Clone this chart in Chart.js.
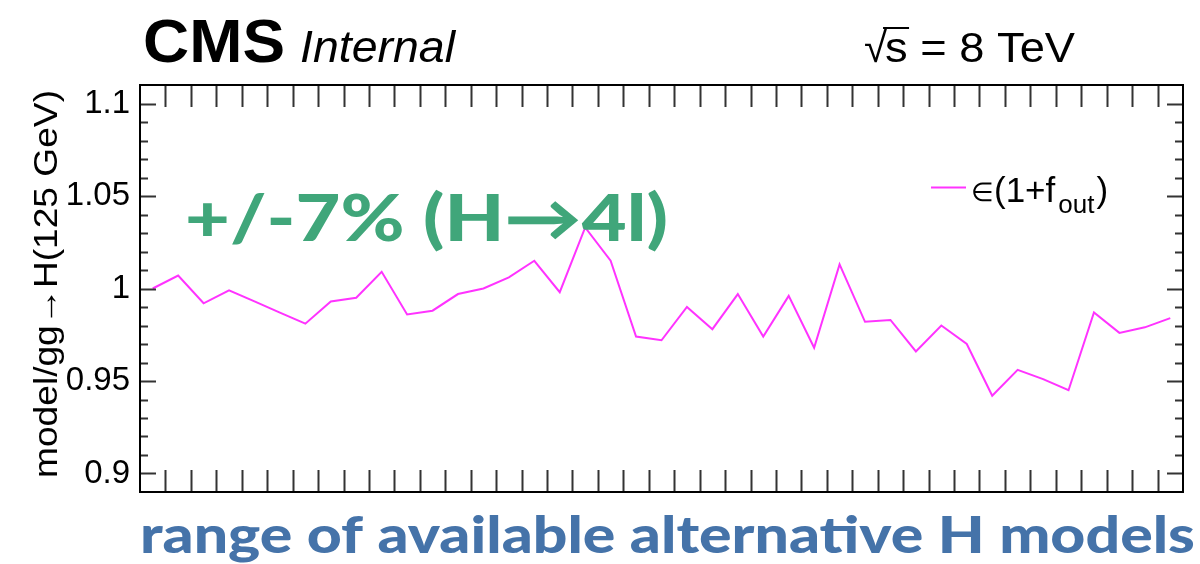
<!DOCTYPE html>
<html>
<head>
<meta charset="utf-8">
<script src="https://cdn.jsdelivr.net/npm/chart.js@4.4.1/dist/chart.umd.min.js"></script>
<style>
  html, body { margin: 0; padding: 0; background: #fff; }
  #wrap { width: 1200px; height: 564px; }
</style>
</head>
<body>
<div id="wrap"><canvas id="ratio" width="1200" height="564"></canvas></div>
<script>
// one bin per alternative H model
const models = ['1','2','3','4','5','6','7','8','9','10','11','12','13','14','15','16','17','18','19','20',
                '21','22','23','24','25','26','27','28','29','30','31','32','33','34','35','36','37','38','39','40','41'];
// eps * (1 + f_out), normalised to gg->H(125 GeV)
const ratio = [1.000, 1.007, 0.992, 0.999, 0.993, 0.987, 0.981, 0.993, 0.995, 1.009,
               0.986, 0.988, 0.997, 1.000, 1.006, 1.015, 0.998, 1.033, 1.015, 0.974,
               0.972, 0.990, 0.978, 0.997, 0.974, 0.996, 0.968, 1.013, 0.982, 0.983,
               0.966, 0.980, 0.970, 0.942, 0.956, 0.951, 0.945, 0.987, 0.976, 0.979, 0.984];
const yTicks = [0.9, 0.95, 1, 1.05, 1.1];

const helv = '"Liberation Sans", Arial, sans-serif';
const gill = 'Lato, "Open Sans", sans-serif';

// draw text squeezed/stretched horizontally to a given width
function fitText(ctx, text, x, y, font, w) {
  ctx.font = font;
  const m = ctx.measureText(text).width;
  ctx.save();
  ctx.translate(x, y);
  ctx.scale(w / m, 1);
  ctx.fillText(text, 0, 0);
  ctx.restore();
}

// ROOT style frame with inward ticks on all four sides
const frame = {
  id: 'frame',
  afterDraw(chart) {
    const ctx = chart.ctx;
    const a = chart.chartArea;
    const y = chart.scales.y;
    const n = models.length;
    ctx.save();
    ctx.strokeStyle = '#333';
    ctx.lineWidth = 2;
    ctx.beginPath();
    for (let k = 1; k < n; k++) {
      const px = Math.round(a.left + k * (a.right - a.left) / n) + 0.5;
      ctx.moveTo(px, a.bottom); ctx.lineTo(px, a.bottom - 22);
      ctx.moveTo(px, a.top); ctx.lineTo(px, a.top + 22);
    }
    for (let i = 90; i <= 110; i++) {
      const py = Math.round(y.getPixelForValue(i / 100)) + 0.5;
      const len = (i % 5 === 0) ? 16 : 8;
      ctx.moveTo(a.left, py); ctx.lineTo(a.left + len, py);
      ctx.moveTo(a.right, py); ctx.lineTo(a.right - len, py);
    }
    ctx.stroke();
    ctx.strokeStyle = '#000';
    ctx.strokeRect(a.left, a.top, a.right - a.left, a.bottom - a.top);

    ctx.fillStyle = '#000';
    ctx.textAlign = 'left';
    ctx.textBaseline = 'alphabetic';

    // axis title
    ctx.save();
    ctx.translate(57, 478);
    ctx.rotate(-Math.PI / 2);
    fitText(ctx, 'model/gg\u2192H(125 GeV)', 0, 0, '33px ' + helv, 388);
    ctx.restore();

    // header
    fitText(ctx, 'CMS', 143, 62, 'bold 62px ' + helv, 142);
    fitText(ctx, 'Internal', 300, 62, 'italic 44px ' + helv, 155);

    ctx.font = '42px ' + helv;
    ctx.fillText('\u221A', 864, 62);
    const sx = 864 + ctx.measureText('\u221A').width - 2;
    const sw = ctx.measureText('s').width;
    fitText(ctx, 's = 8 TeV', sx, 62, '42px ' + helv, 1075 - sx);
    ctx.lineWidth = 2;
    ctx.beginPath();
    ctx.moveTo(sx - 2, 28); ctx.lineTo(sx + sw + 3, 28);
    ctx.stroke();

    // legend
    ctx.strokeStyle = '#ff33ff';
    ctx.lineWidth = 2;
    ctx.beginPath();
    ctx.moveTo(931, 187.5); ctx.lineTo(966, 187.5);
    ctx.stroke();
    ctx.font = '26px ' + helv;
    ctx.fillText('\u2208', 971, 201);
    ctx.font = '35px ' + helv;
    ctx.fillText('(1+f', 994, 202);
    let lx = 994 + ctx.measureText('(1+f').width + 3;
    ctx.font = '26px ' + helv;
    ctx.fillText('out', lx, 213);
    lx += ctx.measureText('out').width + 2;
    ctx.font = '35px ' + helv;
    ctx.fillText(')', lx, 202);

    // annotations
    ctx.fillStyle = '#40a67a';
    fitText(ctx, '+/-7% (H\u21924l)', 185, 241, '900 64px ' + gill, 483);
    ctx.fillStyle = '#4573a9';
    fitText(ctx, 'range of available alternative H models', 140, 553, '900 52px ' + gill, 1055);
    ctx.restore();
  }
};

new Chart(document.getElementById('ratio'), {
  type: 'line',
  data: {
    labels: models,
    datasets: [{
      label: '\u2208(1+f_out)',
      data: ratio,
      borderColor: '#ff33ff',
      borderWidth: 2,
      pointRadius: 0,
      tension: 0,
      fill: false
    }]
  },
  options: {
    responsive: false,
    animation: false,
    layout: { padding: { left: 0, right: 17, top: 85, bottom: 72 } },
    plugins: { legend: { display: false }, tooltip: { enabled: false } },
    scales: {
      x: { type: 'category', offset: true, display: false },
      y: {
        min: 0.89,
        max: 1.11,
        afterFit(scale) { scale.width = 140; },
        afterBuildTicks(scale) { scale.ticks = yTicks.map(v => ({ value: v })); },
        grid: { display: false, drawTicks: false },
        border: { display: false },
        ticks: {
          padding: 10,
          color: '#000',
          font: { family: helv, size: 33 },
          callback: v => String(Number(v.toFixed(2)))
        }
      }
    }
  },
  plugins: [frame]
});
</script>
</body>
</html>
